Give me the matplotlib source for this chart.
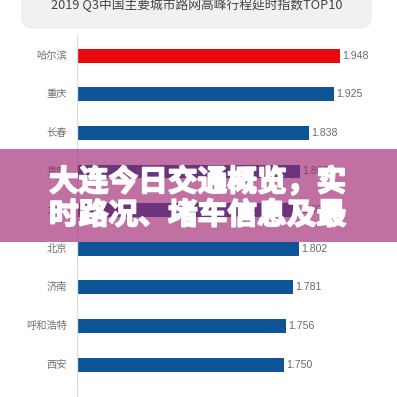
import matplotlib.pyplot as plt
import matplotlib.patheffects as pe
from matplotlib.patches import FancyBboxPatch, Rectangle

cities = ["哈尔滨", "重庆", "长春", "贵阳", "大连", "北京", "济南", "呼和浩特", "西安"]
values = [1.948, 1.925, 1.838, 1.807, 1.803, 1.802, 1.781, 1.756, 1.750]
title = "2019 Q3中国主要城市路网高峰行程延时指数TOP10"
overlay_lines = ["大连今日交通概览，实", "时路况、堵车信息及最"]

W = 397
fig = plt.figure(figsize=(3.97, 3.97), dpi=100)
fig.patch.set_facecolor("white")

ax = fig.add_axes([77 / W, 0, 320 / W, 1])
ax.set_xlim(1.018, 2.149)
ax.set_ylim(8.84, -1.44)
ax.axis("off")

colors = ["#e9060d"] + ["#0d5597"] * (len(cities) - 1)
ypos = list(range(len(cities)))
ax.barh(ypos, values, left=0, height=0.36, color=colors)
ax.axvline(1.018, ymin=0, ymax=1 - 34 / W, color="#dddddd", lw=1)

for y, v, c in zip(ypos, values, cities):
    ax.text(v + 0.008, y, f"{v:.3f}", va="center", ha="left",
            fontsize=7.6, color="#6a6a6a", family=["Liberation Sans"])
    ax.text(1.018 - 0.036, y, c, va="center", ha="right",
            fontsize=7.4, color="#707070", family=["Noto Sans CJK SC"])

# title box
box = FancyBboxPatch((22 / W, 1 - 28 / W), 349 / W, 45 / W,
                     boxstyle="round,pad=0,rounding_size=0.03",
                     transform=fig.transFigure, facecolor="#f1f1f1",
                     edgecolor="#e6e6e6", lw=0.6, zorder=1)
fig.patches.append(box)
fig.text(197 / W, 1 - 5 / W, title, ha="center", va="center", fontsize=9.2,
         color="#444444", family=["Noto Sans CJK SC"], zorder=2)

# overlay band
band = Rectangle((0, 1 - 242 / W), 1, 93 / W, transform=fig.transFigure,
                 facecolor=(158 / 255, 35 / 255, 112 / 255), alpha=0.65,
                 edgecolor="none", zorder=5)
fig.patches.append(band)
for i, line in enumerate(overlay_lines):
    fig.text(49 / W, 1 - (182 + 33 * i) / W, line, ha="left", va="center",
             fontsize=21.4, fontweight="bold", color="white",
             family=["Noto Sans CJK SC"], zorder=6,
             path_effects=[pe.withStroke(linewidth=1.3, foreground="white")])

fig.savefig("out.png", dpi=100)
